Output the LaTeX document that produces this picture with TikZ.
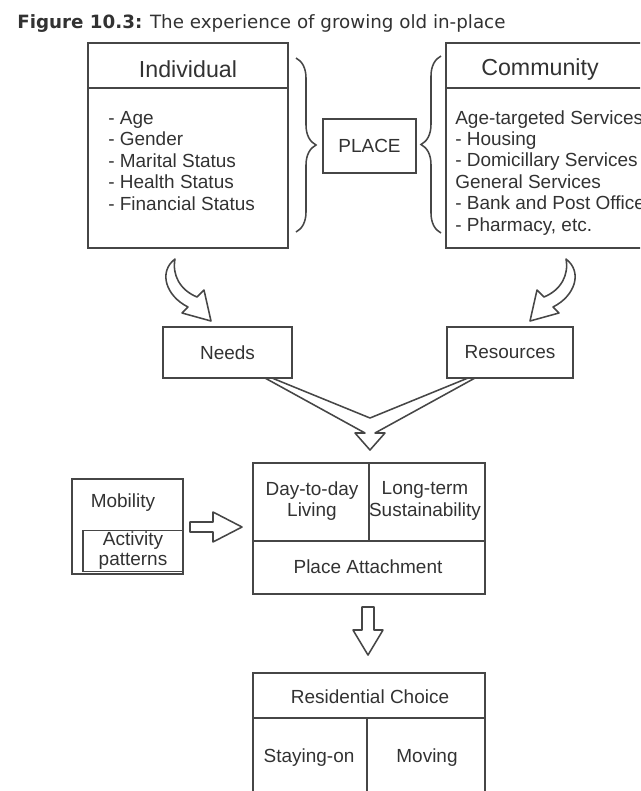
\documentclass[tikz,border=0pt]{standalone}
\usepackage{fontspec}
\setmainfont{Liberation Sans}
\newfontfamily\titlefont{DejaVu Sans}
\usetikzlibrary{decorations.pathreplacing}
\definecolor{inkline}{RGB}{70,70,70}
\definecolor{inktext}{RGB}{50,50,50}
\tikzset{
  cellbox/.style={draw=inkline, line width=1.1pt, inner sep=0pt, text=inktext, font=\fontsize{13.5}{15.5}\selectfont},
  boxtitle/.style={text=inktext, font=\fontsize{16.5}{18}\selectfont, inner sep=0pt},
  listitem/.style={text=inktext, font=\fontsize{13.5}{15.5}\selectfont, inner sep=0pt, anchor=base west},
  celltext/.style={text=inktext, font=\fontsize{13.5}{15.5}\selectfont, inner sep=0pt, align=center},
  rule/.style={draw=inkline, line width=1.1pt},
  blockarrow/.style={draw=inkline, line width=1.1pt, line join=round, fill=white},
  curly/.style={draw=inkline, line width=1.1pt, decorate, decoration={brace, amplitude=0.5cm}}
}
\begin{document}
\begin{tikzpicture}[x=0.025cm, y=-0.025cm]
\useasboundingbox (0,0) rectangle (640,791);
\clip (0,0) rectangle (640,791);
%\draw[step=20,gray,very thin] (0,0) grid (640,791);
\node[anchor=base west, inner sep=0pt, text=inktext, font=\titlefont\fontsize{13}{15}\selectfont] (title) at (17,28)
  {\textbf{Figure 10.3:} The experience of growing old in-place};

% top row
\node[cellbox, minimum width=5cm, minimum height=5.125cm] (indiv) at (188,145.5) {};
\draw[rule] (indiv.west |- 0,88) -- (indiv.east |- 0,88);
\node[boxtitle] (indivT) at (188,69) {Individual};
\foreach \txt [count=\i] in {- Age, - Gender, - Marital Status, - Health Status, - Financial Status}
  \node[listitem] (ind\i) at (108,124+21.5*\i-21.5) {\txt};
\draw[curly] (296,58) -- (296,232);

\node[cellbox, minimum width=2.325cm, minimum height=1.35cm] (place) at (369.5,146) {PLACE};

\draw[curly] (441,233) -- (441,56);
\node[cellbox, minimum width=5.225cm, minimum height=5.125cm] (comm) at (550.5,145.5) {};
\draw[rule] (comm.west |- 0,88) -- (comm.east |- 0,88);
\node[boxtitle] (commT) at (540,69) {Community};
\foreach \txt [count=\i] in {Age-targeted Services, - Housing, - Domicillary Services, General Services, - Bank and Post Office, {- Pharmacy, etc.}}
  \node[listitem] (com\i) at (455,124+21.4*\i-21.4) {\txt};

% curved arrows
\draw[blockarrow] (175,259) .. controls (158,272) and (166,296) .. (188,307) -- (182,313) -- (211,321)
  -- (204,290) -- (197,297) .. controls (180,290) and (172,275) .. (175,259) -- cycle;
\draw[blockarrow] (566,259) .. controls (583,272) and (575,296) .. (553,307) -- (559,313) -- (530,321)
  -- (537,290) -- (544,297) .. controls (561,290) and (569,275) .. (566,259) -- cycle;

\node[cellbox, minimum width=3.225cm, minimum height=1.275cm] (needs) at (227.5,352.5) {Needs};
\node[cellbox, minimum width=3.15cm, minimum height=1.275cm] (res) at (510,352.5) {Resources};

% merging arrow
\draw[blockarrow] (265,378) -- (365,433) -- (355,433) -- (370,450) -- (385,433) -- (375,433)
  -- (475,378) -- (468,378) -- (370,418) -- (272,378) -- cycle;

% middle row
\node[cellbox, minimum width=2.775cm, minimum height=2.375cm] (mob) at (127.5,526.5) {};
\node[celltext] (mobT) at (123,503) {Mobility};
\node[cellbox, minimum width=2.5cm, minimum height=1.025cm, align=center, font=\fontsize{13.5}{14.2}\selectfont] (act) at (133,551) {Activity\\patterns};
\draw[blockarrow] (190,522) -- (213,522) -- (213,512) -- (242,527) -- (213,542) -- (213,532) -- (190,532) -- cycle;

\node[cellbox, minimum width=5.8cm, minimum height=3.275cm] (mainbox) at (369,528.5) {};
\draw[rule] (mainbox.west |- 0,541) -- (mainbox.east |- 0,541);
\draw[rule] (mainbox.north) -- (mainbox.center |- 0,541);
\node[celltext] (daily) at (312,501) {Day-to-day\\Living};
\node[celltext] (longterm) at (425,501) {Long-term\\Sustainability};
\node[celltext] (attach) at (368,567) {Place Attachment};

\draw[blockarrow] (362,607) -- (374,607) -- (374,630) -- (383,630) -- (368,655) -- (353,630) -- (362,630) -- cycle;

% bottom
\node[cellbox, minimum width=5.8cm, minimum height=3.675cm] (resbox) at (369,746.5) {};
\draw[rule] (resbox.west |- 0,718) -- (resbox.east |- 0,718);
\draw[rule] (367,718) -- (367,830);
\node[celltext] (choice) at (370,697) {Residential Choice};
\node[celltext] (stay) at (309,758) {Staying-on};
\node[celltext] (moving) at (427,758) {Moving};
\end{tikzpicture}
\end{document}
